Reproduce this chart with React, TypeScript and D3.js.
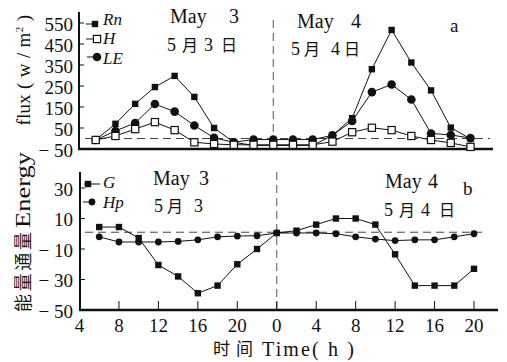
import * as d3 from "d3";

// hours since 0:00 on May 3 (24 = 0:00 May 4)
const hours = [6, 8, 10, 12, 14, 16, 18, 20, 22, 24, 26, 28, 30, 32, 34, 36, 38, 40, 42, 44];

// panel a: Rn, H, LE  (w/m2)
const rnValues = [-7, 70, 165, 245, 298, 198, 50, -18, -33, -33, -33, -33, 15, 97, 330, 517, 362, 229, 52, -2];
const hValues = [-7, 12, 45, 78, 40, -18, -26, -30, -30, -30, -30, -30, -15, 30, 51, 40, 12, -7, -21, -40];
const leValues = [-7, 36, 74, 164, 128, 62, 3, -18, -5, -5, -5, -5, 15, 83, 221, 257, 186, 24, 17, 2];

// panel b: G, Hp
const gValues = [4.4, 4.4, -2.8, -20.5, -28, -39, -34, -20, -10, 0.5, 2, 6, 10, 10, 6, -13.5, -34, -34, -34, -23];
const hpValues = [-2, -5.4, -5.4, -5.4, -5, -4, -2, -1.5, -1.3, 0.5, 0.5, 0.5, 0, -2, -3.5, -4.5, -4, -4, -2, 0];

const xTickHours = [4, 8, 12, 16, 20, 24, 28, 32, 36, 40, 44];
const xTickLabels = ["4", "8", "12", "16", "20", "0", "4", "8", "12", "16", "20"];
const topTicks = [550, 450, 350, 250, 150, 50, -50];
const bottomTicks = [30, 10, -10, -30, -50];

const SERIF = "Liberation Serif, Times New Roman, DejaVu Serif, serif";
const CJK = "Noto Sans CJK SC, sans-serif";
const INK = "#111";

const fmt = (v: number) => (v < 0 ? `\u2212 ${-v}` : `${v}`);

type MarkKind = "sq" | "osq" | "dot" | "bigdot";

function Mark({ kind, x, y }: { kind: MarkKind; x: number; y: number }) {
  if (kind === "sq") return <rect x={x - 3.2} y={y - 3.2} width={6.4} height={6.4} fill={INK} />;
  if (kind === "osq")
    return <rect x={x - 3.6} y={y - 3.6} width={7.2} height={7.2} fill="#fff" stroke={INK} strokeWidth={1.2} />;
  if (kind === "bigdot") return <circle cx={x} cy={y} r={4.3} fill={INK} />;
  return <circle cx={x} cy={y} r={3.4} fill={INK} />;
}

function Words({ items, y, size, family }: { items: [string, number][]; y: number; size: number; family: string }) {
  return (
    <g style={{ fontFamily: family, fontSize: size }} fill={INK}>
      {items.map(([t, x], i) => (
        <text key={i} x={x} y={y}>
          {t}
        </text>
      ))}
    </g>
  );
}

export default function App() {
  const width = 507;
  const height = 362;

  const xTop = d3.scaleLinear().domain([4, 44]).range([76, 470.5]);
  const xBot = d3.scaleLinear().domain([4, 44]).range([79.5, 474]);
  const yTop = d3.scaleLinear().domain([-50, 550]).range([149, 23]);
  const yBot = d3.scaleLinear().domain([-50, 30]).range([310, 188]);

  const lineTop = d3
    .line<number>()
    .x((_, i) => xTop(hours[i]))
    .y((d) => yTop(d));
  const lineBot = d3
    .line<number>()
    .x((_, i) => xBot(hours[i]))
    .y((d) => yBot(d));

  const topSeries: { values: number[]; kind: MarkKind }[] = [
    { values: rnValues, kind: "sq" },
    { values: leValues, kind: "bigdot" },
    { values: hValues, kind: "osq" },
  ];
  const botSeries: { values: number[]; kind: MarkKind }[] = [
    { values: hpValues, kind: "dot" },
    { values: gValues, kind: "sq" },
  ];

  const serif = (size: number, extra: Record<string, string | number> = {}) => ({
    fontFamily: SERIF,
    fontSize: size,
    ...extra,
  });

  return (
    <svg
      width={width}
      height={height}
      style={{ position: "absolute", left: 0, top: 0, background: "#fff" }}
    >
      {/* reference lines */}
      <line x1={85} x2={490} y1={yTop(0)} y2={yTop(0)} stroke="#444" strokeDasharray="8,5" />
      <line x1={85} x2={482} y1={yBot(1)} y2={yBot(1)} stroke="#444" strokeDasharray="8,5" />
      <line x1={xTop(24)} x2={xTop(24)} y1={20} y2={148} stroke="#555" strokeDasharray="8,5" />
      <line x1={xBot(24)} x2={xBot(24)} y1={172} y2={309} stroke="#555" strokeDasharray="8,5" />

      {/* panel a axes */}
      <line x1={79} x2={79} y1={12} y2={149} stroke={INK} strokeWidth={2} />
      <line x1={78} x2={493} y1={149} y2={149} stroke={INK} strokeWidth={2.4} />
      {topTicks.map((t) => (
        <g key={t}>
          <line x1={79} x2={84} y1={yTop(t)} y2={yTop(t)} stroke={INK} />
          <text x={73} y={yTop(t) + 1.5} dy="0.35em" textAnchor="end" style={serif(19)} fill={INK}>
            {fmt(t)}
          </text>
        </g>
      ))}

      {/* panel b axes */}
      <line x1={80} x2={80} y1={172} y2={310} stroke={INK} strokeWidth={2} />
      <line x1={79} x2={498} y1={310} y2={310} stroke={INK} strokeWidth={2.4} />
      {bottomTicks.map((t) => (
        <g key={t}>
          <line x1={80} x2={85} y1={yBot(t)} y2={yBot(t)} stroke={INK} />
          <text x={73} y={yBot(t) + 1} dy="0.35em" textAnchor="end" style={serif(19)} fill={INK}>
            {fmt(t)}
          </text>
        </g>
      ))}
      {xTickHours.map((h, i) => (
        <g key={h}>
          {i > 0 && <line x1={xBot(h)} x2={xBot(h)} y1={310} y2={301} stroke={INK} />}
          <text x={xBot(h)} y={332} textAnchor="middle" style={serif(19)} fill={INK}>
            {xTickLabels[i]}
          </text>
        </g>
      ))}

      {/* series */}
      {topSeries.map((s, k) => (
        <path key={k} d={lineTop(s.values) ?? ""} fill="none" stroke={INK} strokeWidth={1} />
      ))}
      {topSeries.map((s, k) =>
        s.values.map((v, i) => <Mark key={`${k}-${i}`} kind={s.kind} x={xTop(hours[i])} y={yTop(v)} />),
      )}
      {botSeries.map((s, k) => (
        <path key={k} d={lineBot(s.values) ?? ""} fill="none" stroke={INK} strokeWidth={1} />
      ))}
      {botSeries.map((s, k) =>
        s.values.map((v, i) => <Mark key={`${k}-${i}`} kind={s.kind} x={xBot(hours[i])} y={yBot(v)} />),
      )}

      {/* legends */}
      <g stroke={INK}>
        <line x1={86} x2={94} y1={24} y2={24} />
        <line x1={86} x2={94} y1={39} y2={39} />
        <line x1={87} x2={93} y1={57} y2={57} />
        <line x1={84} x2={100} y1={184} y2={184} />
        <line x1={83} x2={92} y1={202} y2={202} />
      </g>
      <Mark kind="sq" x={95} y={24} />
      <Mark kind="osq" x={97} y={39} />
      <Mark kind="bigdot" x={97} y={57} />
      <Mark kind="sq" x={88} y={184} />
      <Mark kind="dot" x={92} y={202} />
      <g style={serif(17, { fontStyle: "italic" })} fill={INK}>
        <text x={103} y={25}>Rn</text>
        <text x={103} y={44}>H</text>
        <text x={103} y={64}>LE</text>
        <text x={103} y={188}>G</text>
        <text x={103} y={208}>Hp</text>
      </g>

      {/* date annotations */}
      <Words items={[["May", 170], ["3", 229]]} y={23} size={20} family={SERIF} />
      <Words items={[["5", 167], ["3", 204]]} y={51} size={18} family={SERIF} />
      <Words items={[["月", 182], ["日", 221]]} y={51} size={16} family={CJK} />
      <Words items={[["May", 297], ["4", 351]]} y={28} size={20} family={SERIF} />
      <Words items={[["5", 291], ["4", 331]]} y={55} size={18} family={SERIF} />
      <Words items={[["月", 304], ["日", 344]]} y={55} size={16} family={CJK} />
      <Words items={[["a", 450]]} y={32} size={19} family={SERIF} />

      <Words items={[["May", 153], ["3", 199]]} y={185} size={20} family={SERIF} />
      <Words items={[["5", 154], ["3", 194]]} y={212} size={18} family={SERIF} />
      <Words items={[["月", 167]]} y={212} size={16} family={CJK} />
      <Words items={[["May", 385], ["4", 428]]} y={188} size={20} family={SERIF} />
      <Words items={[["5", 384], ["4", 421]]} y={216} size={18} family={SERIF} />
      <Words items={[["月", 399], ["日", 439]]} y={216} size={16} family={CJK} />
      <Words items={[["b", 463]]} y={195} size={19} family={SERIF} />

      {/* axis titles */}
      <text x={213} y={355} style={{ fontFamily: CJK, fontSize: 17 }} fill={INK} textLength={40} lengthAdjust="spacing">
        时间
      </text>
      <text x={262} y={356} style={serif(20)} fill={INK} textLength={92} lengthAdjust="spacing">
        Time( h )
      </text>

      <g fill={INK}>
        <text
          transform="translate(30,272) rotate(-90)"
          textAnchor="middle"
          style={{ fontFamily: CJK, fontSize: 18 }}
          textLength={80}
          lengthAdjust="spacing"
        >
          能量通量
        </text>
        <text
          transform="translate(30,190) rotate(-90)"
          textAnchor="middle"
          style={serif(20)}
          textLength={76}
          lengthAdjust="spacingAndGlyphs"
        >
          Energy
        </text>
        <text
          transform="translate(30,110) rotate(-90)"
          textAnchor="middle"
          style={serif(19)}
          textLength={31}
          lengthAdjust="spacingAndGlyphs"
        >
          flux
        </text>
        <text
          transform="translate(30,52) rotate(-90)"
          textAnchor="middle"
          style={serif(19)}
          textLength={74}
          lengthAdjust="spacing"
        >
          ( w / m
          <tspan dy={-7} style={{ fontSize: 11 }}>
            2
          </tspan>
          <tspan dy={7}> )</tspan>
        </text>
      </g>
    </svg>
  );
}
